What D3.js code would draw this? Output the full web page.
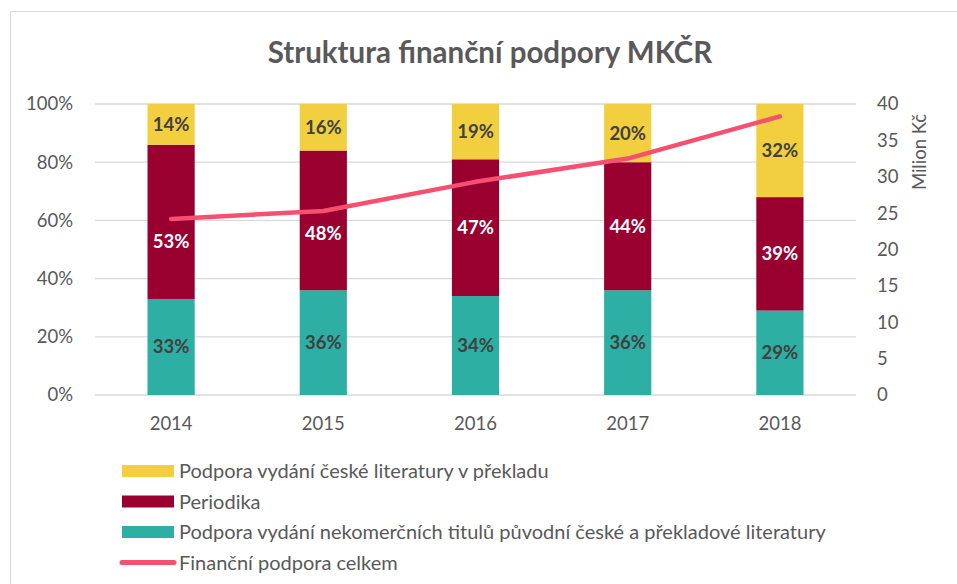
<!DOCTYPE html>
<html>
<head>
<meta charset="utf-8">
<script src="https://cdn.jsdelivr.net/npm/d3@7"></script>
<style>
  body { margin: 0; background: #fff; }
  svg text { font-family: Lato, "Open Sans", sans-serif; }
</style>
</head>
<body>
<div id="chart"></div>
<script>
const years = ["2014", "2015", "2016", "2017", "2018"];
const preklad = [14, 16, 19, 20, 32];
const periodika = [53, 48, 47, 44, 39];
const nekomercni = [33, 36, 34, 36, 29];
const celkem = [24.2, 25.3, 29.3, 32.5, 38.3];
const leftTicks = [0, 20, 40, 60, 80, 100];
const rightTicks = [0, 5, 10, 15, 20, 25, 30, 35, 40];

const seriesNames = [
  "Podpora vydání nekomerčních titulů původní české a překladové literatury",
  "Periodika",
  "Podpora vydání české literatury v překladu"
];
const lineName = "Finanční podpora celkem";
const colors = ["#2EAFA3", "#990030", "#F2CF3E"];
const labelColors = ["#404040", "#ffffff", "#404040"];
const lineColor = "#F5506F";

const width = 957, height = 584;
const plot = {left: 95, right: 856, top: 104, bottom: 395};
const fs = 18.5;

const svg = d3.select("#chart").append("svg")
  .attr("width", width)
  .attr("height", height);

svg.append("rect")
  .attr("x", 10.5).attr("y", 11.5)
  .attr("width", 960).attr("height", 600)
  .attr("fill", "#fff").attr("stroke", "#d9d9d9");

svg.append("text")
  .attr("x", 490).attr("y", 63)
  .attr("text-anchor", "middle")
  .attr("font-size", 29.5).attr("font-weight", "bold")
  .attr("fill", "#595959")
  .text("Struktura finanční podpory MKČR");

const x = d3.scaleBand()
  .domain(years)
  .range([plot.left, plot.right])
  .paddingInner(0.69)
  .paddingOuter(0.345);

const y = d3.scaleLinear().domain([0, 100]).range([plot.bottom, plot.top]);
const y2 = d3.scaleLinear().domain([0, 40]).range([plot.bottom, plot.top]);

// gridlines
svg.append("g")
  .selectAll("line")
  .data(leftTicks)
  .join("line")
    .attr("x1", plot.left).attr("x2", plot.right)
    .attr("y1", d => y(d)).attr("y2", d => y(d))
    .attr("stroke", "#d9d9d9").attr("stroke-width", 1.3);

// left axis
const yAxis = svg.append("g")
  .attr("transform", `translate(${plot.left - 19},0)`)
  .call(d3.axisLeft(y).tickValues(leftTicks).tickFormat(d => d + "%").tickSize(0));
yAxis.select(".domain").remove();
yAxis.selectAll("text").attr("font-size", fs).attr("fill", "#595959");

// right axis
const y2Axis = svg.append("g")
  .attr("transform", `translate(${plot.right + 21},0)`)
  .call(d3.axisRight(y2).tickValues(rightTicks).tickSize(0));
y2Axis.select(".domain").remove();
y2Axis.selectAll("text").attr("font-size", fs).attr("fill", "#595959").attr("dx", -3);

svg.append("text")
  .attr("transform", `translate(926,152) rotate(-90)`)
  .attr("text-anchor", "middle")
  .attr("font-size", fs).attr("fill", "#595959")
  .text("Milion Kč");

// x axis
const xAxis = svg.append("g")
  .attr("transform", `translate(0,${plot.bottom + 19})`)
  .call(d3.axisBottom(x).tickSize(0));
xAxis.select(".domain").remove();
xAxis.selectAll("text").attr("font-size", fs).attr("fill", "#595959");

// stacked bars
const rows = years.map((yr, i) => ({year: yr, a: nekomercni[i], b: periodika[i], c: preklad[i], total: celkem[i]}));
const stack = d3.stack().keys(["a", "b", "c"]);
const layers = stack(rows);

// keep a label clear of the line: push it below when they meet
function labelY(d) {
  const mid = (y(d[0]) + y(d[1])) / 2;
  const ly = y2(d.data.total);
  if (Math.abs(mid - ly) < 16) return Math.max(mid, ly + 23);
  return mid;
}

layers.forEach((layer, li) => {
  const g = svg.append("g");
  g.selectAll("rect")
    .data(layer)
    .join("rect")
      .attr("x", d => x(d.data.year))
      .attr("width", x.bandwidth())
      .attr("y", d => y(d[1]))
      .attr("height", d => y(d[0]) - y(d[1]))
      .attr("fill", colors[li]);
});

// line
svg.append("path")
  .datum(celkem)
  .attr("fill", "none")
  .attr("stroke", lineColor)
  .attr("stroke-width", 4.5)
  .attr("stroke-linecap", "round")
  .attr("stroke-linejoin", "round")
  .attr("d", d3.line()
    .x((d, i) => x(years[i]) + x.bandwidth() / 2)
    .y(d => y2(d)));

layers.forEach((layer, li) => {
  svg.append("g").selectAll("text")
    .data(layer)
    .join("text")
      .attr("x", d => x(d.data.year) + x.bandwidth() / 2)
      .attr("y", labelY)
      .attr("dy", "0.35em")
      .attr("text-anchor", "middle")
      .attr("font-size", fs).attr("font-weight", "bold")
      .attr("fill", labelColors[li])
      .text(d => (d[1] - d[0]) + "%");
});

// legend
const legendItems = [
  {name: seriesNames[2], color: colors[2], type: "rect"},
  {name: seriesNames[1], color: colors[1], type: "rect"},
  {name: seriesNames[0], color: colors[0], type: "rect"},
  {name: lineName, color: lineColor, type: "line"}
];
const legend = svg.append("g").attr("transform", "translate(122,471)");
legendItems.forEach((item, i) => {
  const g = legend.append("g").attr("transform", `translate(0,${i * 30.5})`);
  if (item.type === "rect") {
    g.append("rect").attr("x", 0).attr("y", -6).attr("width", 52).attr("height", 12).attr("fill", item.color);
  } else {
    g.append("line").attr("x1", 0).attr("x2", 52).attr("y1", 0).attr("y2", 0)
      .attr("stroke", item.color).attr("stroke-width", 5).attr("stroke-linecap", "round");
  }
  g.append("text")
    .attr("x", 57).attr("y", 0).attr("dy", "0.35em")
    .attr("font-size", 20).attr("fill", "#595959")
    .text(item.name);
});
</script>
</body>
</html>
